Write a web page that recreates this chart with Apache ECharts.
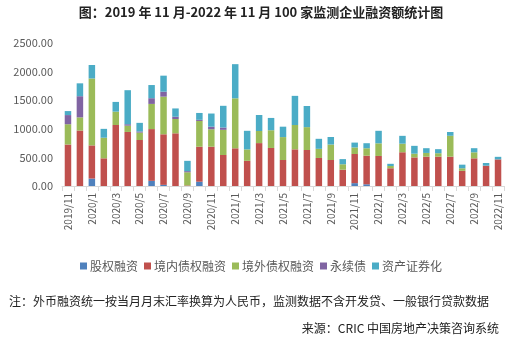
<!DOCTYPE html>
<html>
<head>
<meta charset="utf-8">
<script src="https://cdn.jsdelivr.net/npm/echarts@6/dist/echarts.min.js"></script>
<style>
  html, body { margin: 0; padding: 0; background: #fff; }
  #chart { width: 522px; height: 340px; }
</style>
</head>
<body>
<div id="chart"></div>
<script>
// Months, 2019/11 – 2022/11
const months = [
  '2019/11','2019/12','2020/1','2020/2','2020/3','2020/4','2020/5','2020/6','2020/7','2020/8',
  '2020/9','2020/10','2020/11','2020/12','2021/1','2021/2','2021/3','2021/4','2021/5','2021/6',
  '2021/7','2021/8','2021/9','2021/10','2021/11','2021/12','2022/1','2022/2','2022/3','2022/4',
  '2022/5','2022/6','2022/7','2022/8','2022/9','2022/10','2022/11'
];

// Financing amounts (亿元) by channel
const equity = [0,0,130,0,0,0,0,90,20,0, 0,75,0,0,0,0,0,0,0,0, 0,0,0,0,50,30,0,0,0,0, 0,0,0,0,0,0,0];
const domesticBond = [725,970,580,484,1066,945,804,905,884,921, 10,612,687,542,659,440,750,665,455,641,
  629,490,455,285,509,500,525,310,590,500, 513,513,513,265,484,355,465];
const offshoreBond = [355,230,1170,360,234,110,130,440,658,250, 230,450,305,440,874,200,212,310,400,425,
  400,160,270,95,115,130,221,40,150,65, 65,60,365,45,105,0,0];
const perpetual = [160,370,0,0,0,25,20,100,87,40, 20,20,45,40,0,0,0,0,0,0, 0,0,0,0,0,0,0,0,0,0, 0,0,0,0,0,0,0];
const abs = [70,225,235,155,170,595,150,230,280,145, 180,120,230,380,597,325,279,215,182,510,
  370,175,132,90,85,88,219,38,137,137, 83,71,66,63,72,47,45];

const seriesNames = ['股权融资', '境内债权融资', '境外债权融资', '永续债', '资产证券化'];
const seriesData = [equity, domesticBond, offshoreBond, perpetual, abs];
const colors = ['#4F81BD', '#C0504D', '#9BBB59', '#8064A2', '#4BACC6'];

const yTicks = { min: 0, max: 2500, interval: 500 };

const titleText = '图：2019 年 11 月-2022 年 11 月 100 家监测企业融资额统计图';
const noteText = '注：外币融资统一按当月月末汇率换算为人民币，监测数据不含开发贷、一般银行贷款数据';
const sourceText = '来源：CRIC 中国房地产决策咨询系统';

const cjk = '"Noto Sans CJK SC", "Noto Sans", sans-serif';

const chart = echarts.init(document.getElementById('chart'), null, { renderer: 'canvas' });

chart.setOption({
  animation: false,
  color: colors,
  title: [
    {
      text: titleText,
      left: 'center',
      top: 1,
      textStyle: { fontFamily: cjk, fontSize: 13, fontWeight: 'bold', color: '#222' }
    },
    {
      text: noteText,
      left: 4,
      top: 290,
      textStyle: { fontFamily: cjk, fontSize: 12, fontWeight: 'normal', color: '#222' }
    },
    {
      text: sourceText,
      right: 18,
      top: 317,
      textStyle: { fontFamily: cjk, fontSize: 12, fontWeight: 'normal', color: '#222' }
    }
  ],
  legend: {
    data: seriesNames,
    top: 255,
    left: 'center',
    itemWidth: 7,
    itemHeight: 7,
    itemGap: 6,
    icon: 'rect',
    textStyle: { fontFamily: cjk, fontSize: 12, color: '#595959', padding: [0, 0, 0, -2] }
  },
  grid: { left: 62, right: 18, top: 43, bottom: 154, containLabel: false },
  xAxis: {
    type: 'category',
    data: months,
    axisLine: { lineStyle: { color: '#d9d9d9' } },
    axisTick: { show: true, interval: 0, lineStyle: { color: '#d9d9d9' } },
    axisLabel: {
      interval: 1,
      rotate: 90,
      margin: 7,
      fontFamily: cjk,
      fontSize: 10,
      color: '#595959'
    }
  },
  yAxis: {
    type: 'value',
    min: yTicks.min,
    max: yTicks.max,
    interval: yTicks.interval,
    axisLine: { show: false },
    axisTick: { show: false },
    splitLine: { show: false },
    axisLabel: {
      margin: 9,
      fontFamily: cjk,
      fontSize: 11,
      color: '#595959',
      formatter: v => v.toFixed(2)
    }
  },
  series: seriesNames.map((name, i) => ({
    name,
    type: 'bar',
    stack: 'total',
    barWidth: 6.5,
    data: seriesData[i],
    itemStyle: { color: colors[i] }
  }))
});
</script>
</body>
</html>
